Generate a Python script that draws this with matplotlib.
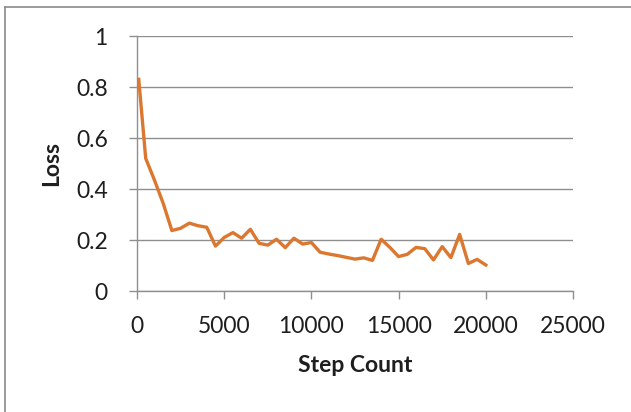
import matplotlib
matplotlib.use("Agg")
import matplotlib.pyplot as plt
from matplotlib.lines import Line2D

steps = [100, 500, 1000, 1500, 2000, 2500, 3000, 3500, 4000, 4500, 5000, 5500,
         6000, 6500, 7000, 7500, 8000, 8500, 9000, 9500, 10000, 10500, 11000,
         11500, 12000, 12500, 13000, 13500, 14000, 14500, 15000, 15500, 16000,
         16500, 17000, 17500, 18000, 18500, 19000, 19500, 20000]
loss = [0.83, 0.52, 0.435, 0.344, 0.237, 0.246, 0.266, 0.256, 0.25, 0.176,
        0.21, 0.229, 0.207, 0.242, 0.187, 0.18, 0.203, 0.17, 0.207, 0.184,
        0.19, 0.152, 0.145, 0.139, 0.132, 0.125, 0.13, 0.12, 0.203, 0.171,
        0.135, 0.144, 0.171, 0.166, 0.122, 0.174, 0.131, 0.222, 0.108, 0.124,
        0.102]
xticks = [0, 5000, 10000, 15000, 20000, 25000]
yticks = [0, 0.2, 0.4, 0.6, 0.8, 1]
ytick_labels = ["0", "0.2", "0.4", "0.6", "0.8", "1"]

plt.rcParams['font.family'] = ['Lato', 'DejaVu Sans']

W, H = 631, 412
fig = plt.figure(figsize=(W / 100, H / 100), dpi=100)
ax = fig.add_axes([137 / W, 1 - 291 / H, (573 - 137) / W, (291 - 36) / H])

grid_c = '#8f8f8f'
ax.plot(steps, loss, color='#DB772F', lw=2.4, solid_joinstyle='round', zorder=3)
ax.set_xlim(0, 25000)
ax.set_ylim(0, 1)
ax.set_xticks(xticks)
ax.set_xticklabels([str(t) for t in xticks])
ax.set_yticks(yticks)
ax.set_yticklabels(ytick_labels)
ax.yaxis.grid(True, color=grid_c, lw=1.0)
ax.set_axisbelow(True)
for s in ['top', 'right']:
    ax.spines[s].set_visible(False)
for s in ['left', 'bottom']:
    ax.spines[s].set_color(grid_c)
    ax.spines[s].set_linewidth(1.0)
ax.tick_params(axis='both', direction='out', length=6, width=1.0, color=grid_c,
               labelsize=16.5, labelcolor='#1e1e1e')
ax.tick_params(axis='y', pad=15)
ax.tick_params(axis='x', pad=12)

ax.set_xlabel('Step Count', fontsize=16.5, fontweight='bold', labelpad=13,
              color='#1e1e1e')
ax.set_ylabel('Loss', fontsize=16.5, fontweight='bold', labelpad=10,
              color='#1e1e1e')

# chart-area border
fig.add_artist(Line2D([5 / W, 5 / W], [0, 1 - 7 / H], transform=fig.transFigure,
                      color='#8a8a8a', lw=1.2))
fig.add_artist(Line2D([5 / W, 1], [1 - 7 / H, 1 - 7 / H], transform=fig.transFigure,
                      color='#8a8a8a', lw=1.2))

fig.savefig('out.png', dpi=100)
